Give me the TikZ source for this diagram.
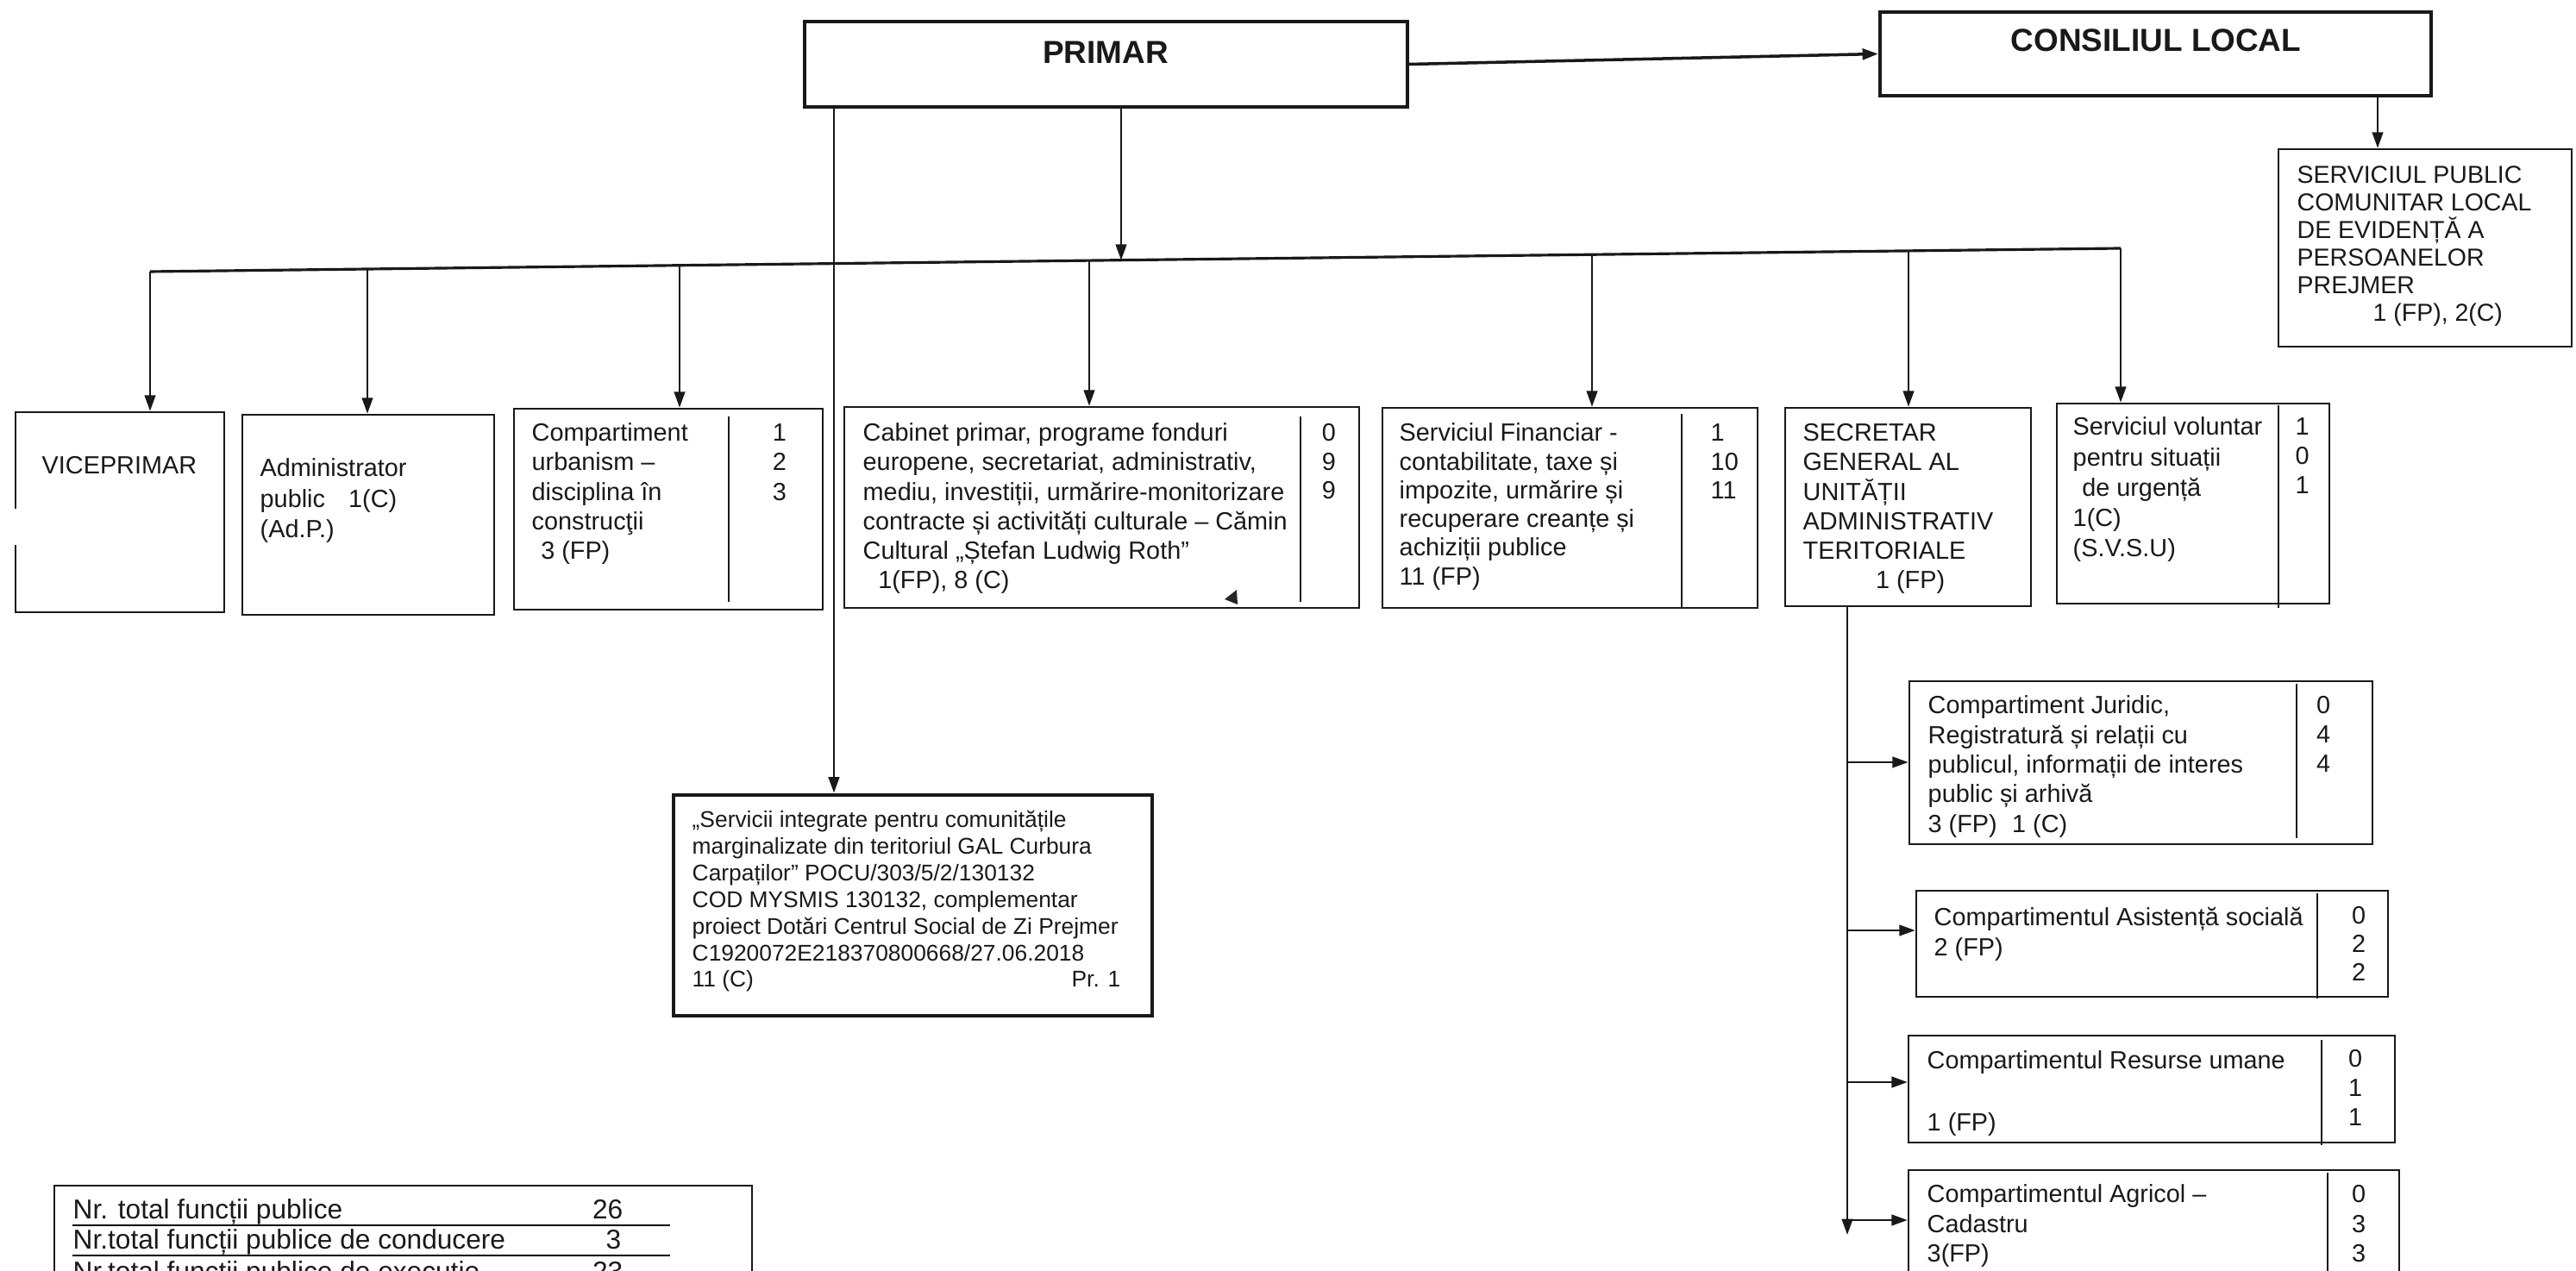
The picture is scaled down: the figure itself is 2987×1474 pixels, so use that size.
\documentclass[tikz,border=0pt]{standalone}
\usepackage{fontspec}
\setmainfont{Liberation Sans}
\usetikzlibrary{arrows.meta,fit}
\newcommand{\setfs}[2]{\fontsize{#1}{#2}\selectfont}
\newcommand{\blines}[1]{\parbox[t]{8cm}{\raggedright #1}}
\newcommand{\bnums}[1]{\parbox[t]{1cm}{\centering #1}}
\newcommand{\lnums}[1]{\parbox[t]{1cm}{\raggedright #1}}
\begin{document}
\begin{tikzpicture}[x=0.01cm,y=-0.01cm,
 box/.style={draw=black!90, line width=0.75pt, inner sep=0pt},
 heavy/.style={draw=black!90, line width=1.2pt, inner sep=0pt},
 txt/.style={inner sep=0pt, anchor=base west, text=black!90, font=\setfs{8.2}{9.67}},
 num/.style={inner sep=0pt, anchor=base, text=black!90, font=\setfs{8.2}{9.67}},
 ttl/.style={inner sep=0pt, text=black!90, font=\bfseries\setfs{10.5}{12}},
 link/.style={line width=0.6pt, draw=black!90},
 arr/.style={link, -{Triangle[length=5.2pt,width=3.6pt]}},
 divider/.style={line width=0.6pt, draw=black!90},
 tbltxt/.style={inner sep=0pt, anchor=base west, text=black!90, font=\setfs{9}{10}},
]
\useasboundingbox (0,0) rectangle (2987,1474);
\clip (0,0) rectangle (2987,1474);

% top level
\node[heavy, fit={(933,25) (1632,124)}] (primar) {};
\node[ttl] (primarT) at (1282,61) {PRIMAR};
\node[heavy, fit={(2180,14) (2819,111)}] (consiliu) {};
\node[ttl] (consiliuT) at (2500,47) {CONSILIUL LOCAL};
\node[box, fit={(2642,173) (2982,402)}] (spclep) {};
\node[txt, font=\setfs{8.1}{9.05}] (spclepT) at (2663,213) {\blines{SERVICIUL PUBLIC\\COMUNITAR LOCAL\\DE EVIDENȚĂ A\\PERSOANELOR\\PREJMER\\\hspace*{25pt}1 (FP), 2(C)}};

% second row
\node[box, fit={(18,478) (260,710)}] (vice) {};
\draw[white, line width=2pt] (18,590) -- (18,632);
\node[txt] (viceT) at (48,550) {VICEPRIMAR};

\node[box, fit={(281,481) (573,713)}] (admin) {};
\node[txt, font=\setfs{8.2}{9.96}] (adminT) at (301,553) {\blines{Administrator\\public\hspace{0.94em}1(C)\\(Ad.P.)}};

\node[box, fit={(596,474) (954,707)}] (urb) {};
\draw[divider] (845,483) -- (845,698);
\node[txt] (urbT) at (616,512) {\blines{Compartiment\\urbanism –\\disciplina în\\construcţii\\\hspace*{3pt}3 (FP)}};
\node[num] (urbN) at (904,512) {\bnums{1\\2\\3}};

\node[box, fit={(979,472) (1576,705)}] (cab) {};
\draw[divider] (1508,483) -- (1508,698);
\node[txt] (cabT) at (1000,512) {\blines{Cabinet primar, programe fonduri\\europene, secretariat, administrativ,\\mediu, investiții, urmărire-monitorizare\\contracte și activități culturale – Cămin\\Cultural „Ștefan Ludwig Roth”\\\hspace*{5pt}1(FP), 8 (C)}};
\node[num, font=\setfs{8.2}{9.4}] (cabN) at (1541,512) {\bnums{0\\9\\9}};
\fill[black!85] (1420,695) -- (1434,684) -- (1435,701) -- cycle;

\node[box, fit={(1603,473) (2038,705)}] (fin) {};
\draw[divider] (1950,480) -- (1950,705);
\node[txt, font=\setfs{8.2}{9.45}] (finT) at (1622,512) {\blines{Serviciul Financiar -\\contabilitate, taxe și\\impozite, urmărire și\\recuperare creanțe și\\achiziții publice\\11 (FP)}};
\node[txt, font=\setfs{8.2}{9.45}] (finN) at (1983,512) {\lnums{1\\10\\11}};

\node[box, fit={(2070,473) (2355,703)}] (secr) {};
\node[txt] (secrT) at (2090,512) {\blines{SECRETAR\\GENERAL AL\\UNITĂȚII\\ADMINISTRATIV\\TERITORIALE\\\hspace*{24pt}1 (FP)}};

\node[box, fit={(2385,468) (2701,700)}] (svsu) {};
\draw[divider] (2642,470) -- (2642,705);
\node[txt, font=\setfs{8.2}{9.96}] (svsuT) at (2403,505) {\blines{Serviciul voluntar\\pentru situații\\\hspace*{3pt}de urgență\\1(C)\\(S.V.S.U)}};
\node[txt, font=\setfs{8.2}{9.6}] (svsuN) at (2661,505) {\lnums{1\\0\\1}};

% project box
\node[draw=black!90, line width=1.4pt, inner sep=0pt, fit={(781,922) (1336,1178)}] (serv) {};
\node[txt, font=\setfs{7.5}{8.76}] (servT) at (802,960) {\blines{„Servicii integrate pentru comunitățile\\marginalizate din teritoriul GAL Curbura\\Carpaților” POCU/303/5/2/130132\\COD MYSMIS 130132, complementar\\proiect Dotări Centrul Social de Zi Prejmer\\C1920072E218370800668/27.06.2018\\11 (C)}};
\node[txt, anchor=base east, font=\setfs{7.5}{8.76}] (servPr) at (1300,1145) {Pr. 1};

% secretar sub-boxes
\node[box, fit={(2214,790) (2751,979)}] (jur) {};
\draw[divider] (2663,793) -- (2663,972);
\node[txt, font=\setfs{8.2}{9.76}] (jurT) at (2235,828) {\blines{Compartiment Juridic,\\Registratură și relații cu\\publicul, informații de interes\\public și arhivă\\3 (FP)\hspace{0.6em}1 (C)}};
\node[num, font=\setfs{8.2}{9.6}] (jurN) at (2694,828) {\bnums{0\\4\\4}};

\node[box, fit={(2222,1033) (2769,1156)}] (asist) {};
\draw[divider] (2687,1036) -- (2687,1158);
\node[txt] (asistT) at (2242,1074) {\blines{Compartimentul Asistență socială\\2 (FP)}};
\node[num, font=\setfs{8.2}{9.3}] (asistN) at (2735,1072) {\bnums{0\\2\\2}};

\node[box, fit={(2213,1201) (2777,1325)}] (res) {};
\draw[divider] (2692,1206) -- (2692,1328);
\node[txt, font=\setfs{8.2}{10.1}] (resT) at (2234,1240) {\blines{Compartimentul Resurse umane\\[10.1pt]1 (FP)}};
\node[num, font=\setfs{8.2}{9.6}] (resN) at (2731,1238) {\bnums{0\\1\\1}};

\node[box, fit={(2213,1357) (2782,1520)}] (agr) {};
\draw[divider] (2699,1360) -- (2699,1520);
\node[txt, font=\setfs{8.2}{9.8}] (agrT) at (2234,1395) {\blines{Compartimentul Agricol –\\Cadastru\\3(FP)}};
\node[num, font=\setfs{8.2}{9.8}] (agrN) at (2735,1395) {\bnums{0\\3\\3}};

% summary table
\node[box, fit={(63,1375) (872,1520)}] (tbl) {};
\node[tbltxt] (t1) at (84,1414) {Nr. total funcții publice};
\node[tbltxt, anchor=base east] (t1n) at (723,1414) {26};
\draw[line width=0.8pt] (84,1421) -- (777,1421);
\node[tbltxt] (t2) at (84,1449) {Nr.total funcții publice de conducere};
\node[tbltxt, anchor=base east] (t2n) at (721,1449) {3};
\draw[line width=0.8pt] (84,1456) -- (777,1456);
\node[tbltxt] (t3) at (84,1485) {Nr.total funcții publice de execuție};
\node[tbltxt, anchor=base east] (t3n) at (723,1485) {23};

% connectors
\draw[arr, line width=1pt] (primar.east) -- (consiliu.west);
\coordinate (cs) at (2757,0);
\draw[arr] (consiliu.south -| cs) -- (spclep.north -| cs);

\coordinate (busL) at (174,315);
\coordinate (busR) at (2459,288);
\draw[link, line width=0.9pt] (busL) -- (busR);
\coordinate (pb) at (1300,301.7);
\draw[arr] (primar.south -| pb) -- (pb);

\coordinate (d1) at (174,315);
\coordinate (d2) at (426,312);
\coordinate (d3) at (788,307.7);
\coordinate (d4) at (1263,302);
\coordinate (d5) at (1846,295.2);
\coordinate (d6) at (2213,290.9);
\coordinate (d7) at (2459,288);
\draw[arr] (d1) -- (d1 |- vice.north);
\draw[arr] (d2) -- (d2 |- admin.north);
\draw[arr] (d3) -- (d3 |- urb.north);
\draw[arr] (d4) -- (d4 |- cab.north);
\draw[arr] (d5) -- (d5 |- fin.north);
\draw[arr] (d6) -- (d6 |- secr.north);
\draw[arr] (d7) -- (d7 |- svsu.north);

\coordinate (sv) at (967,0);
\draw[arr] (primar.south -| sv) -- (serv.north -| sv);

\coordinate (sx) at (2142,1432);
\draw[arr] (secr.south -| sx) -- (sx);
\coordinate (b1) at (2142,884);
\coordinate (b2) at (2142,1079);
\coordinate (b3) at (2142,1255);
\coordinate (b4) at (2142,1415);
\draw[arr] (b1) -- (b1 -| jur.west);
\draw[arr] (b2) -- (b2 -| asist.west);
\draw[arr] (b3) -- (b3 -| res.west);
\draw[arr] (b4) -- (b4 -| agr.west);
\end{tikzpicture}
\end{document}
